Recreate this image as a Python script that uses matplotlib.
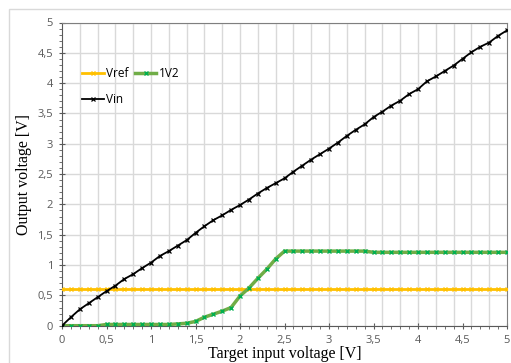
import matplotlib
matplotlib.use("Agg")
import matplotlib.pyplot as plt
from matplotlib.ticker import MultipleLocator, FuncFormatter
from matplotlib.patches import Rectangle

# target input voltage, 0..5 V in 0.1 V steps
target = [round(i * 0.1, 1) for i in range(51)]

vref = [0.61] * 51

v1v2 = [0.00, 0.00, 0.00, 0.00, 0.00, 0.02, 0.02, 0.02, 0.02, 0.02,
        0.02, 0.02, 0.02, 0.03, 0.04, 0.07, 0.14, 0.19, 0.24, 0.30,
        0.49, 0.62, 0.78, 0.93, 1.10, 1.23, 1.23, 1.23, 1.23, 1.23,
        1.23, 1.23, 1.23, 1.23, 1.23, 1.21, 1.21, 1.21, 1.21, 1.21,
        1.21, 1.21, 1.21, 1.21, 1.21, 1.21, 1.21, 1.21, 1.21, 1.21,
        1.21]

vin = [0.00, 0.14, 0.27, 0.37, 0.47, 0.57, 0.66, 0.77, 0.85, 0.95,
       1.04, 1.15, 1.23, 1.32, 1.41, 1.53, 1.64, 1.74, 1.82, 1.91,
       1.99, 2.08, 2.18, 2.27, 2.35, 2.43, 2.54, 2.64, 2.74, 2.83,
       2.92, 3.02, 3.13, 3.23, 3.32, 3.44, 3.53, 3.63, 3.71, 3.82,
       3.90, 4.03, 4.11, 4.20, 4.29, 4.40, 4.51, 4.60, 4.67, 4.78,
       4.87]

TICK_GREY = "#595959"


def comma_fmt(v, pos):
    s = ("%.1f" % v).rstrip("0").rstrip(".")
    return s.replace(".", ",")


fig = plt.figure(figsize=(5.11, 3.63), dpi=100)
fig.patches.append(Rectangle((9 / 511, -0.01), 1.0, (363 - 9) / 363 + 0.01,
                             transform=fig.transFigure, fill=False,
                             edgecolor="#d9d9d9", linewidth=1))
ax = fig.add_axes([62 / 511, 37.3 / 363, 445 / 511, 303.2 / 363])

ax.plot(target, vref, color="#ffc000", linewidth=2, marker="x",
        markersize=3, markeredgewidth=1, markeredgecolor="#ffc000",
        label="Vref", zorder=3)
ax.plot(target, v1v2, color="#70ad47", linewidth=2.5, marker="x",
        markersize=3, markeredgewidth=1, markeredgecolor="#00b050",
        label="1V2", zorder=4)
ax.plot(target, vin, color="black", linewidth=1.3, marker="x",
        markersize=3, markeredgewidth=0.9, label="Vin", zorder=5)

ax.set_xlim(0, 5)
ax.set_ylim(0, 5)
ax.xaxis.set_major_locator(MultipleLocator(0.5))
ax.xaxis.set_minor_locator(MultipleLocator(0.1))
ax.yaxis.set_major_locator(MultipleLocator(0.5))
ax.yaxis.set_minor_locator(MultipleLocator(0.1))
ax.xaxis.set_major_formatter(FuncFormatter(comma_fmt))
ax.yaxis.set_major_formatter(FuncFormatter(comma_fmt))

# vertical grid every 0.2 V, horizontal every 0.5 V
for gx in [i * 0.2 for i in range(1, 25)]:
    ax.axvline(gx, color="#d9d9d9", linewidth=1, zorder=0)
ax.yaxis.grid(True, which="major", color="#d9d9d9", linewidth=1, zorder=0)

for side in ["top", "right", "left", "bottom"]:
    ax.spines[side].set_color("#7f7f7f")
ax.spines["left"].set_color("#595959")
ax.spines["bottom"].set_color("#595959")

ax.tick_params(which="major", direction="inout", length=5, color="#595959",
               labelsize=8, labelcolor=TICK_GREY, pad=4)
ax.tick_params(which="minor", direction="out", length=2.5, color="#595959")
for lab in ax.get_xticklabels() + ax.get_yticklabels():
    lab.set_fontfamily("Open Sans")

ax.set_xlabel("Target input voltage [V]", fontfamily="Liberation Serif",
              fontsize=11.5, labelpad=0)
ax.set_ylabel("Output voltage [V]", fontfamily="Liberation Serif",
              fontsize=11.5, labelpad=4)

# legend order: Vref, 1V2 on first row, Vin on the second
handles, labels = ax.get_legend_handles_labels()
order = [0, 2, 1]
ax.legend([handles[i] for i in order], [labels[i] for i in order],
          loc="upper left", bbox_to_anchor=(0.035, 0.87), ncol=2,
          frameon=False, prop={"family": "Open Sans", "size": 8.5},
          handlelength=1.8, handletextpad=0.25, columnspacing=0.5,
          labelspacing=1.15, borderaxespad=0)

fig.savefig("out.png", dpi=100)
